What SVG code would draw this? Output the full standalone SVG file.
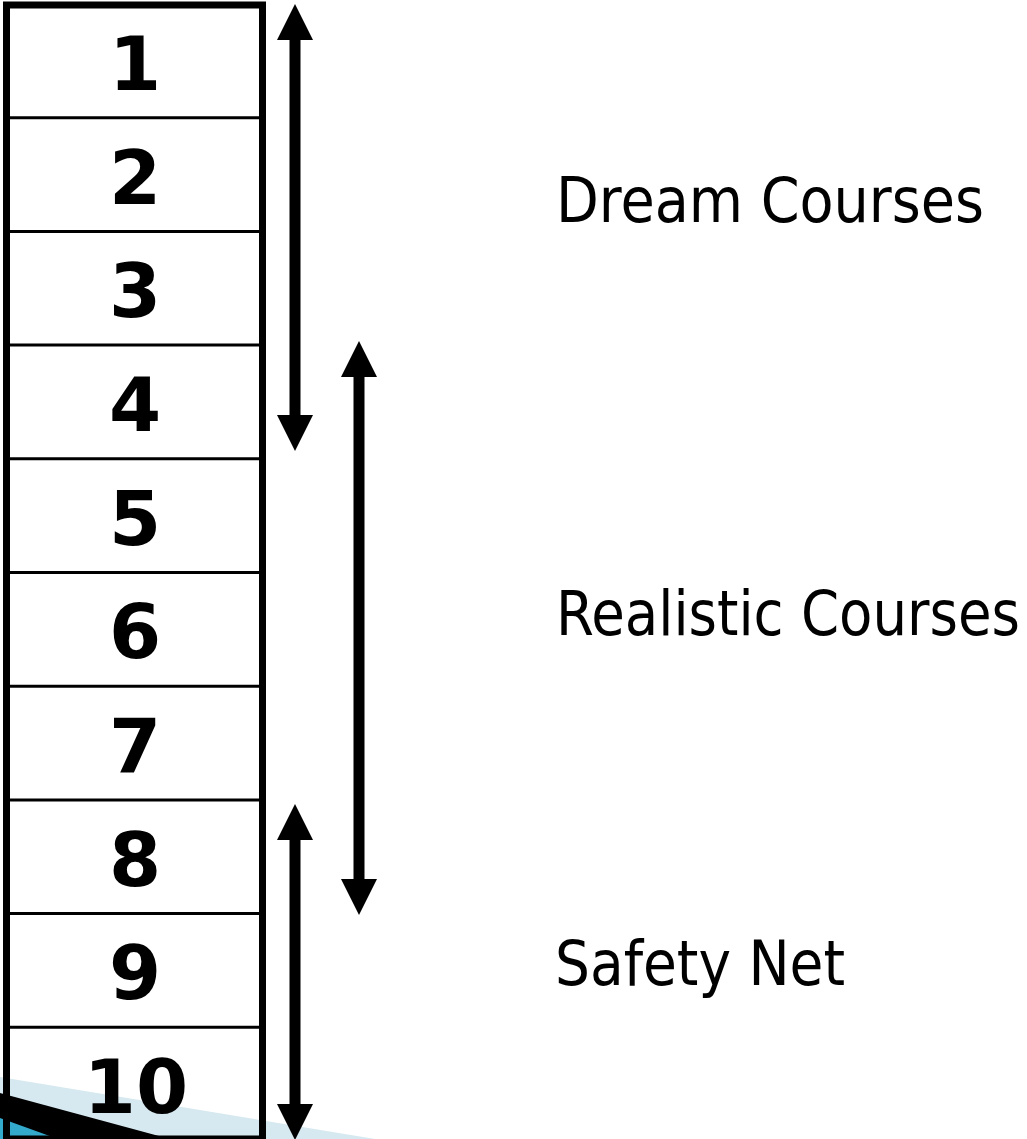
<svg xmlns="http://www.w3.org/2000/svg" width="1027" height="1139" viewBox="0 0 1027 1139">
  <style>
    .num { font-family: "DejaVu Sans", "Liberation Sans", sans-serif; font-weight: bold; font-size: 75px; fill: #000; text-anchor: middle; }
    .lbl { font-family: "DejaVu Sans Condensed", "DejaVu Sans", "Liberation Sans", sans-serif; font-size: 62px; fill: #000; }
    .sep { stroke: #000; stroke-width: 3; }
    .shaft { stroke: #000; stroke-width: 11; fill: none; marker-start: url(#head); marker-end: url(#head); }
  </style>
  <defs>
    <marker id="head" viewBox="0 0 36 36" refX="0" refY="18" markerWidth="36" markerHeight="36" markerUnits="userSpaceOnUse" orient="auto-start-reverse">
      <path d="M0,0 L36,18 L0,36 Z" fill="#000"/>
    </marker>
  </defs>
  <rect width="1027" height="1139" fill="#fff"/>
  <g id="decoration">
    <polygon points="0,1077 375,1139 0,1139" fill="#d6e9f0"/>
    <polygon points="0,1093 170,1139 0,1139" fill="#000"/>
    <polygon points="0,1118 58,1139 0,1139" fill="#33a9cc"/>
  </g>
  <g id="table">
    <rect x="6.5" y="5" width="256" height="1134" fill="none" stroke="#000" stroke-width="7"/>
    <line class="sep" x1="9" y1="117.7" x2="260" y2="117.7"/>
    <line class="sep" x1="9" y1="231.4" x2="260" y2="231.4"/>
    <line class="sep" x1="9" y1="345.1" x2="260" y2="345.1"/>
    <line class="sep" x1="9" y1="458.8" x2="260" y2="458.8"/>
    <line class="sep" x1="9" y1="572.5" x2="260" y2="572.5"/>
    <line class="sep" x1="9" y1="686.2" x2="260" y2="686.2"/>
    <line class="sep" x1="9" y1="799.9" x2="260" y2="799.9"/>
    <line class="sep" x1="9" y1="913.6" x2="260" y2="913.6"/>
    <line class="sep" x1="9" y1="1027.3" x2="260" y2="1027.3"/>
  </g>
  <g id="row1"><text class="num" x="135" y="90">1</text></g>
  <g id="row2"><text class="num" x="135" y="204">2</text></g>
  <g id="row3"><text class="num" x="135" y="317">3</text></g>
  <g id="row4"><text class="num" x="135" y="431">4</text></g>
  <g id="row5"><text class="num" x="135" y="545">5</text></g>
  <g id="row6"><text class="num" x="135" y="658">6</text></g>
  <g id="row7"><text class="num" x="135" y="772">7</text></g>
  <g id="row8"><text class="num" x="135" y="886">8</text></g>
  <g id="row9"><text class="num" x="135" y="999">9</text></g>
  <g id="row10"><text class="num" x="136" y="1113">10</text></g>
  <g id="connectors">
    <line class="shaft" x1="295" y1="40" x2="295" y2="415"/>
    <line class="shaft" x1="359" y1="377" x2="359" y2="879"/>
    <line class="shaft" x1="295" y1="840" x2="295" y2="1104"/>
  </g>
  <g id="dream"><text class="lbl" x="556" y="222" textLength="428" lengthAdjust="spacingAndGlyphs">Dream Courses</text></g>
  <g id="realistic"><text class="lbl" x="556" y="635" textLength="464" lengthAdjust="spacingAndGlyphs">Realistic Courses</text></g>
  <g id="safety"><text class="lbl" x="555" y="985" textLength="290" lengthAdjust="spacingAndGlyphs">Safety Net</text></g>
</svg>
